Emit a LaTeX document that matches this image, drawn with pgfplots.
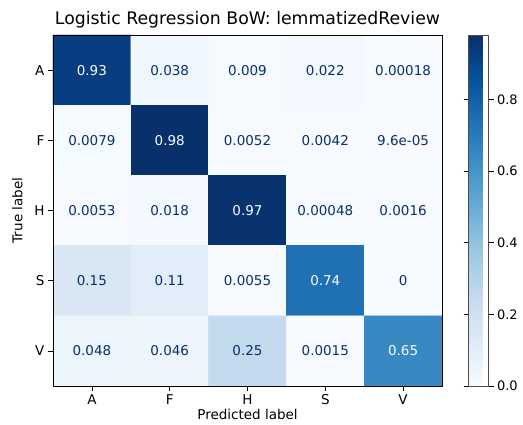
\documentclass[border=0pt]{standalone}
\usepackage{pgfplots}
\pgfplotsset{compat=1.18}
\usepackage{fontspec}
\setmainfont{DejaVu Sans}
\pgfplotsset{colormap={Blues}{rgb255=(247,251,255) rgb255=(222,235,247) rgb255=(198,219,239) rgb255=(158,202,225) rgb255=(107,174,214) rgb255=(66,146,198) rgb255=(33,113,181) rgb255=(8,81,156) rgb255=(8,48,107)}}
\definecolor{darktxt}{RGB}{8,48,107}
\definecolor{lighttxt}{RGB}{247,251,255}
\begin{document}
\begin{tikzpicture}
\begin{axis}[
  name=ax,
  width=389pt, height=351pt, scale only axis,
  colormap name=Blues,
  point meta min=0, point meta max=0.98,
  xmin=-0.5, xmax=4.5, ymin=-0.5, ymax=4.5,
  enlargelimits=false,
  y dir=reverse,
  axis on top,
  xtick={0,1,2,3,4}, xticklabels={A,F,H,S,V},
  ytick={0,1,2,3,4}, yticklabels={A,F,H,S,V},
  xtick pos=left, ytick pos=left,
  tick align=outside, major tick length=5pt,
  tick style={black, line width=0.6pt},
  ticklabel style={font=\fontsize{13.5}{15}\selectfont},
  label style={font=\fontsize{13.5}{15}\selectfont},
  xlabel={Predicted label}, ylabel={True label},
  xlabel style={yshift=2pt},
  ylabel style={yshift=5pt},
  title={Logistic Regression BoW: lemmatizedReview},
  title style={font=\fontsize{17.3}{19}\selectfont, yshift=-3pt},
  axis line style={line width=0.6pt},
  colorbar,
  colorbar style={
    at={(parent axis.north east)}, anchor=north west, xshift=18pt,
    width=20pt, scale only axis,
    ytick={0,0.2,0.4,0.6,0.8},
    yticklabel style={font=\fontsize{13}{15}\selectfont, /pgf/number format/fixed, /pgf/number format/precision=1, /pgf/number format/fixed zerofill, /pgf/number format/assume math mode=true},
    tick align=outside, major tick length=5pt,
    axis line style={line width=0.6pt, black!70},
  },
]
\addplot[matrix plot*, mesh/cols=5, point meta=explicit] table[meta=c] {
x y c
0 0 0.93
1 0 0.038
2 0 0.009
3 0 0.022
4 0 0.00018
0 1 0.0079
1 1 0.98
2 1 0.0052
3 1 0.0042
4 1 0.000096
0 2 0.0053
1 2 0.018
2 2 0.97
3 2 0.00048
4 2 0.0016
0 3 0.15
1 3 0.11
2 3 0.0055
3 3 0.74
4 3 0
0 4 0.048
1 4 0.046
2 4 0.25
3 4 0.0015
4 4 0.65
};
\addplot[only marks, mark=none, nodes near coords, point meta=explicit symbolic,
  nodes near coords style={anchor=center, text=darktxt, font=\fontsize{13.5}{15}\selectfont}] table[meta=lab] {
x y lab
1 0 0.038
2 0 0.009
3 0 0.022
4 0 0.00018
0 1 0.0079
2 1 0.0052
3 1 0.0042
4 1 9.6e-05
0 2 0.0053
1 2 0.018
3 2 0.00048
4 2 0.0016
0 3 0.15
1 3 0.11
2 3 0.0055
4 3 0
0 4 0.048
1 4 0.046
2 4 0.25
3 4 0.0015
};
\addplot[only marks, mark=none, nodes near coords, point meta=explicit symbolic,
  nodes near coords style={anchor=center, text=lighttxt, font=\fontsize{13.5}{15}\selectfont}] table[meta=lab] {
x y lab
0 0 0.93
1 1 0.98
2 2 0.97
3 3 0.74
4 4 0.65
};
\end{axis}
\pgfresetboundingbox
\path ([xshift=-53pt,yshift=-39pt]ax.south west) rectangle ([xshift=81pt,yshift=35pt]ax.north east);
\end{tikzpicture}
\end{document}
